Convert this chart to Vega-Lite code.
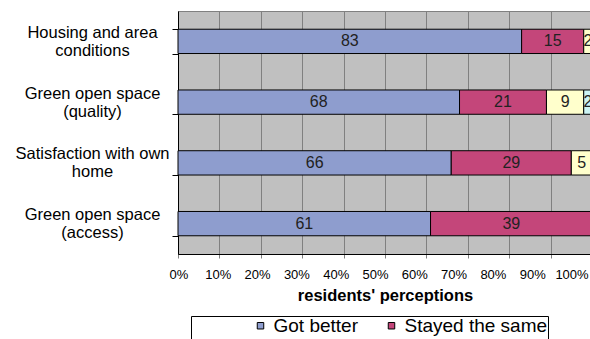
{
  "$schema": "https://vega.github.io/schema/vega-lite/v6.json",
  "autosize": {"type": "none"},
  "padding": {"left": 178, "top": 11, "right": 0, "bottom": 85},
  "width": 414,
  "height": 243,
  "background": "white",
  "data": {
    "values": [
      {"cat": "Housing and area conditions", "series": "Got better", "value": 83, "o": 1},
      {"cat": "Housing and area conditions", "series": "Stayed the same", "value": 15, "o": 2},
      {"cat": "Housing and area conditions", "series": "Got worse", "value": 2, "o": 3},
      {"cat": "Green open space (quality)", "series": "Got better", "value": 68, "o": 1},
      {"cat": "Green open space (quality)", "series": "Stayed the same", "value": 21, "o": 2},
      {"cat": "Green open space (quality)", "series": "Got worse", "value": 9, "o": 3},
      {"cat": "Green open space (quality)", "series": "Don't know", "value": 2, "o": 4},
      {"cat": "Satisfaction with own home", "series": "Got better", "value": 66, "o": 1},
      {"cat": "Satisfaction with own home", "series": "Stayed the same", "value": 29, "o": 2},
      {"cat": "Satisfaction with own home", "series": "Got worse", "value": 5, "o": 3},
      {"cat": "Green open space (access)", "series": "Got better", "value": 61, "o": 1},
      {"cat": "Green open space (access)", "series": "Stayed the same", "value": 39, "o": 2}
    ]
  },
  "encoding": {
    "y": {
      "field": "cat",
      "type": "nominal",
      "sort": ["Housing and area conditions", "Green open space (quality)", "Satisfaction with own home", "Green open space (access)"],
      "scale": {"paddingInner": 0.6, "paddingOuter": 0.3},
      "axis": {
        "title": null,
        "grid": false,
        "domainColor": "#000000",
        "tickColor": "#000000",
        "tickSize": 6,
        "tickBand": "extent",
        "labelFont": "Liberation Sans",
        "labelFontSize": 16.5,
        "labelColor": "#000000",
        "labelAlign": "center",
        "labelBaseline": "middle",
        "labelPadding": 80,
        "labelOffset": -9,
        "labelLineHeight": 18,
        "labelLimit": 0,
        "labelExpr": "datum.label == 'Housing and area conditions' ? ['Housing and area', 'conditions'] : datum.label == 'Green open space (quality)' ? ['Green open space', '(quality)'] : datum.label == 'Satisfaction with own home' ? ['Satisfaction with own', 'home'] : datum.label == 'Green open space (access)' ? ['Green open space', '(access)'] : datum.label"
      }
    }
  },
  "layer": [
    {
      "mark": {"type": "bar", "stroke": "#000000", "strokeWidth": 1},
      "encoding": {
        "x": {
          "field": "value",
          "type": "quantitative",
          "stack": "zero",
          "scale": {"domain": [0, 100], "nice": false},
          "axis": {
            "values": [0, 10, 20, 30, 40, 50, 60, 70, 80, 90, 100],
            "labelExpr": "datum.value + '%'",
            "grid": true,
            "gridColor": "#808080",
            "gridWidth": 1,
            "domainColor": "#000000",
            "tickColor": "#808080",
            "tickSize": 4,
            "labelFont": "Liberation Sans",
            "labelFontSize": 13,
            "labelColor": "#000000",
            "labelPadding": 10,
            "labelFlush": false,
            "labelOverlap": false,
            "labelOffset": {
              "condition": [
                {"test": "datum.value == 10", "value": -1.6},
                {"test": "datum.value == 20", "value": -3.7},
                {"test": "datum.value == 30", "value": -5.8},
                {"test": "datum.value == 40", "value": -7.9},
                {"test": "datum.value == 50", "value": -10},
                {"test": "datum.value == 60", "value": -12.1},
                {"test": "datum.value == 70", "value": -14.2},
                {"test": "datum.value == 80", "value": -16.3},
                {"test": "datum.value == 90", "value": -18.4},
                {"test": "datum.value == 100", "value": -20.5}
              ],
              "value": 0.5
            },
            "title": "residents' perceptions",
            "titleFont": "Liberation Sans",
            "titleFontSize": 16.5,
            "titleFontWeight": "bold",
            "titleColor": "#000000",
            "titlePadding": 6
          }
        },
        "color": {
          "field": "series",
          "type": "nominal",
          "scale": {
            "domain": ["Got better", "Stayed the same", "Got worse", "Don't know"],
            "range": ["#8E9DCE", "#C4467A", "#FFFFCC", "#CCF4F4"]
          },
          "legend": {
            "orient": "none",
            "legendX": 13,
            "legendY": 305,
            "direction": "horizontal",
            "columns": 2,
            "title": " ",
            "titleOrient": "left",
            "titleFontSize": 11,
            "titlePadding": 60,
            "fillColor": "#FFFFFF",
            "strokeColor": "#000000",
            "padding": 0,
            "symbolType": "square",
            "symbolSize": 42,
            "symbolStrokeColor": "#000000",
            "symbolStrokeWidth": 1,
            "symbolOpacity": 1,
            "labelOffset": 3.5,
            "columnPadding": 21,
            "rowPadding": 24,
            "labelFont": "Liberation Sans",
            "labelFontSize": 19,
            "labelColor": "#000000",
            "labelLimit": 0
          }
        },
        "order": {"field": "o", "type": "quantitative"}
      }
    },
    {
      "mark": {"type": "text", "font": "Liberation Sans", "fontSize": 16, "color": "#222222"},
      "encoding": {
        "x": {"field": "value", "type": "quantitative", "stack": "zero", "bandPosition": 0.5},
        "detail": {"field": "series", "type": "nominal"},
        "order": {"field": "o", "type": "quantitative"},
        "text": {"field": "value", "type": "quantitative"}
      }
    }
  ],
  "config": {
    "font": "Liberation Sans",
    "view": {"fill": "#C0C0C0", "stroke": "#808080", "strokeWidth": 1}
  }
}
